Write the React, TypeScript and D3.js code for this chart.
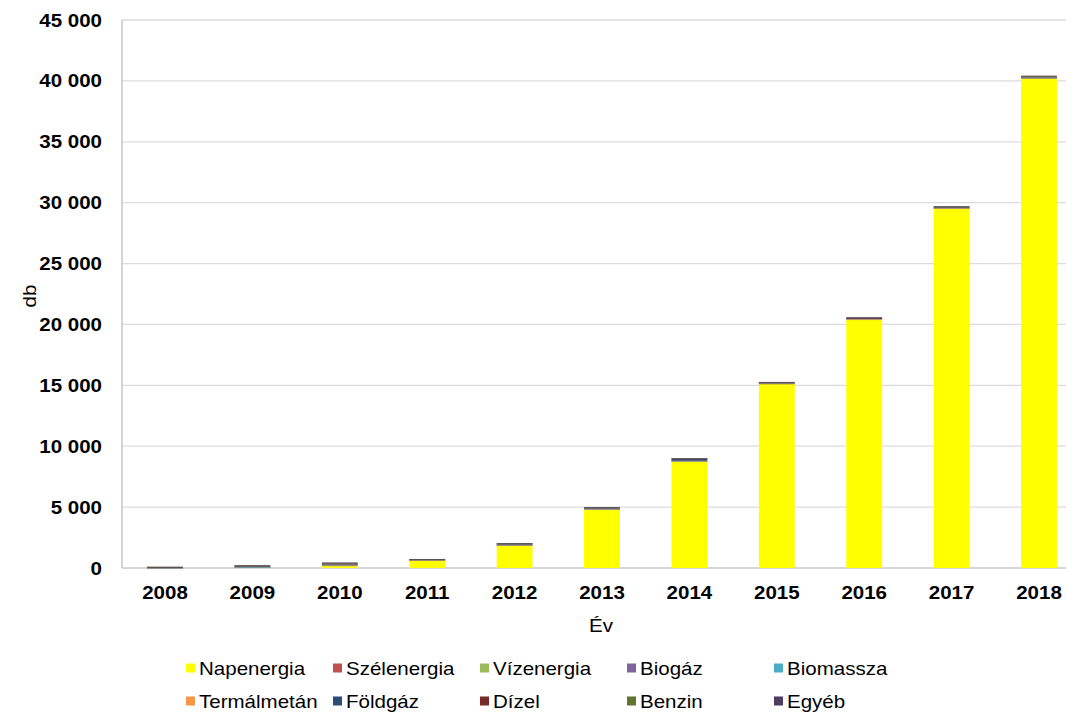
import { scaleBand, scaleLinear, stack, format } from "d3";

const years = ["2008", "2009", "2010", "2011", "2012", "2013", "2014", "2015", "2016", "2017", "2018"];

const seriesNames = [
  "Napenergia", "Szélenergia", "Vízenergia", "Biogáz", "Biomassza",
  "Termálmetán", "Földgáz", "Dízel", "Benzin", "Egyéb",
];
const seriesColors = [
  "#ffff00", "#c0504d", "#9bbb59", "#8064a2", "#4bacc6",
  "#f79646", "#2c4d75", "#772c2a", "#5f7530", "#4d3b62",
];

const napenergia = [5, 60, 150, 600, 1830, 4780, 8740, 15110, 20400, 29500, 40210];
const szelenergia = [5, 10, 80, 30, 60, 50, 20, 30, 10, 40, 30];
const vizenergia = [5, 10, 20, 10, 10, 10, 10, 5, 5, 5, 5];
const biogaz = [5, 5, 20, 10, 15, 20, 20, 15, 15, 20, 20];
const biomassza = [5, 5, 10, 5, 10, 10, 10, 5, 10, 10, 10];
const termalmetan = [0, 0, 5, 5, 5, 5, 5, 5, 5, 5, 5];
const foldgaz = [50, 40, 40, 30, 40, 50, 150, 40, 70, 60, 70];
const dizel = [5, 10, 60, 20, 40, 40, 20, 30, 15, 30, 20];
const benzin = [10, 80, 10, 10, 10, 10, 20, 10, 50, 10, 10];
const egyeb = [15, 20, 60, 20, 30, 25, 35, 30, 30, 40, 50];

const yTicks = [0, 5000, 10000, 15000, 20000, 25000, 30000, 35000, 40000, 45000];

const W = 1066;
const H = 712;
const font = "'Liberation Sans', Arial, sans-serif";
const sx = 1.14;

export default function App() {
  const allSeries = [napenergia, szelenergia, vizenergia, biogaz, biomassza, termalmetan, foldgaz, dizel, benzin, egyeb];
  const rows = years.map((y, i) => {
    const r: any = { year: y };
    seriesNames.forEach((n, k) => (r[n] = allSeries[k][i]));
    return r;
  });
  const layers = stack<any>().keys(seriesNames)(rows);

  const x = scaleBand<string>()
    .domain(years)
    .range([121.3, 1082.7])
    .paddingInner(0.59)
    .paddingOuter(0.295);
  const y = scaleLinear().domain([0, 45000]).range([568, 20]);
  const fmt = (v: number) => format(",")(v).replace(/,/g, " ");

  const plotLeft = 122;

  return (
    <svg width={W} height={H} style={{ position: "absolute", left: 0, top: 0, background: "#fff" }}>
      {/* gridlines */}
      {yTicks.map((t) => (
        <line key={t} x1={plotLeft} x2={W} y1={y(t)} y2={y(t)} stroke={t === 0 ? "#c8c8c8" : "#dcdcdc"} strokeWidth={1.3} />
      ))}
      <line x1={plotLeft} x2={plotLeft} y1={y(45000)} y2={y(0)} stroke="#bfbfbf" strokeWidth={1.3} />

      {/* bars */}
      {layers.map((layer, k) => (
        <g key={layer.key} fill={seriesColors[k]}>
          {layer.map((d, i) => {
            const h = y(d[0]) - y(d[1]);
            if (h <= 0) return null;
            return <rect key={i} x={x(years[i])} width={x.bandwidth()} y={y(d[1])} height={Math.max(h, 0.6)} />;
          })}
        </g>
      ))}

      {/* y ticks */}
      {yTicks.map((t) => (
        <text key={t} transform={`translate(102,${y(t) + 6.5}) scale(${sx},1)`} textAnchor="end"
          fontFamily={font} fontWeight="bold" fontSize={18} fill="#000">{fmt(t)}</text>
      ))}
      {/* x ticks */}
      {years.map((yr) => (
        <text key={yr} transform={`translate(${x(yr)! + x.bandwidth() / 2},${599}) scale(${sx},1)`} textAnchor="middle"
          fontFamily={font} fontWeight="bold" fontSize={18} fill="#000">{yr}</text>
      ))}

      {/* axis titles */}
      <text transform={`translate(36,296) rotate(-90) scale(${sx},1)`} textAnchor="middle" fontFamily={font} fontSize={18} fill="#000">db</text>
      <text transform={`translate(601,632) scale(${sx},1)`} textAnchor="middle" fontFamily={font} fontSize={18} fill="#000">Év</text>

      {/* legend */}
      {seriesNames.map((n, k) => {
        const col = k % 5;
        const row = Math.floor(k / 5);
        const mx = 186 + col * 147;
        const my = 668 + row * 33;
        return (
          <g key={n}>
            <rect x={mx} y={my - 4.5} width={9} height={9} fill={seriesColors[k]} />
            <text transform={`translate(${mx + 13},${my + 6.5}) scale(${sx},1)`} fontFamily={font} fontSize={18} fill="#000">{n}</text>
          </g>
        );
      })}
    </svg>
  );
}
